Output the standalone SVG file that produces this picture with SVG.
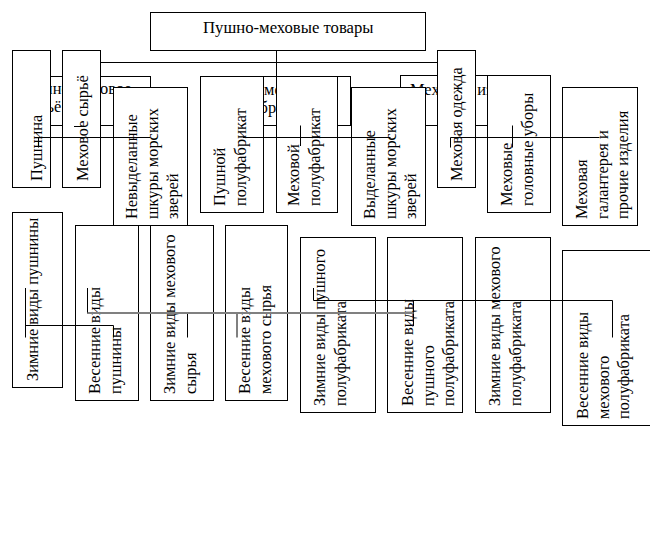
<svg xmlns="http://www.w3.org/2000/svg" width="650" height="538" viewBox="0 0 650 538">
<style>
.box{fill:#fff;stroke:#000;stroke-width:1}
.t{font-family:"Liberation Serif","Times New Roman",serif;font-size:16.4px;fill:#000}
.c{stroke:#000;stroke-width:1;fill:none}
.g{stroke:#808080;stroke-width:2;fill:none}
</style>
<rect width="650" height="538" fill="#fff"/>
<g id="hidden-nodes">
<g id="n-syrye"><rect class="box" x="14.5" y="76.5" width="136" height="49"/><text class="t" x="20" y="94">Пушно-меховое<tspan x="20" dy="18">сырьё</tspan></text></g>
<g id="n-polufabrikaty"><rect class="box" x="203.5" y="76.5" width="147" height="49"/><text class="t" x="209" y="95">Пушно-меховые<tspan x="209" dy="18">полуфабрикаты</tspan></text></g>
<g id="n-izdeliya"><rect class="box" x="400.5" y="75.5" width="145" height="50"/><text class="t" x="410" y="95">Меховые изделия</text></g>
</g>
<g id="n-root"><rect class="box" x="150.5" y="12.5" width="275" height="38"/><text class="t" x="203" y="33" style="font-size:16.7px">Пушно-меховые товары</text></g>
<g id="n-pushnina"><rect class="box" x="12.5" y="50.5" width="38" height="137"/><text class="t" transform="translate(42,181) rotate(-90)">Пушнина</text></g>
<g id="n-mehsyrye"><rect class="box" x="62.5" y="50.5" width="38" height="137"/><text class="t" transform="translate(88,181) rotate(-90)">Меховое сырьё</text></g>
<g id="n-nevyd"><rect class="box" x="113.5" y="87.5" width="74" height="138"/><text class="t" transform="translate(137,219) rotate(-90)">Невыделанные<tspan x="0" dy="20.5">шкуры морских</tspan><tspan x="0" dy="20.5">зверей</tspan></text></g>
<g id="n-pushpf"><rect class="box" x="200.5" y="76.5" width="63" height="136"/><text class="t" transform="translate(225,206) rotate(-90)">Пушной<tspan x="0" dy="20.5">полуфабрикат</tspan></text></g>
<g id="n-mehpf"><rect class="box" x="276.5" y="76.5" width="61" height="136"/><text class="t" transform="translate(299,206) rotate(-90)">Меховой<tspan x="0" dy="20.5">полуфабрикат</tspan></text></g>
<g id="n-vyd"><rect class="box" x="351.5" y="87.5" width="74" height="138"/><text class="t" transform="translate(375,219) rotate(-90)">Выделанные<tspan x="0" dy="20.5">шкуры морских</tspan><tspan x="0" dy="20.5">зверей</tspan></text></g>
<g id="n-odezhda"><rect class="box" x="437.5" y="50.5" width="38" height="137"/><text class="t" transform="translate(462,181) rotate(-90)">Меховая одежда</text></g>
<g id="n-ubory"><rect class="box" x="487.5" y="75.5" width="63" height="137"/><text class="t" transform="translate(512,206) rotate(-90)">Меховые<tspan x="0" dy="20.5">головные уборы</tspan></text></g>
<g id="n-galant"><rect class="box" x="562.5" y="87.5" width="75" height="138"/><text class="t" transform="translate(587,219) rotate(-90)">Меховая<tspan x="0" dy="20.5">галантерея и</tspan><tspan x="0" dy="20.5">прочие изделия</tspan></text></g>
<g id="n-zp"><rect class="box" x="12.5" y="212.5" width="50" height="175"/><text class="t" transform="translate(38,381) rotate(-90)">Зимние виды пушнины</text></g>
<g id="n-vp"><rect class="box" x="75.5" y="225.5" width="63" height="175"/><text class="t" transform="translate(100,394) rotate(-90)">Весенние виды<tspan x="0" dy="20.5">пушнины</tspan></text></g>
<g id="n-zms"><rect class="box" x="150.5" y="225.5" width="63" height="175"/><text class="t" transform="translate(175,394) rotate(-90)">Зимние виды мехового<tspan x="0" dy="20.5">сырья</tspan></text></g>
<g id="n-vms"><rect class="box" x="225.5" y="225.5" width="62" height="175"/><text class="t" transform="translate(250,394) rotate(-90)">Весенние виды<tspan x="0" dy="20.5">мехового сырья</tspan></text></g>
<g id="n-zpp"><rect class="box" x="300.5" y="237.5" width="75" height="175"/><text class="t" transform="translate(325,406) rotate(-90)">Зимние виды пушного<tspan x="0" dy="20.5">полуфабриката</tspan></text></g>
<g id="n-vpp"><rect class="box" x="387.5" y="237.5" width="75" height="175"/><text class="t" transform="translate(413,406) rotate(-90)">Весенние виды<tspan x="0" dy="20.5">пушного</tspan><tspan x="0" dy="20.5">полуфабриката</tspan></text></g>
<g id="n-zmp"><rect class="box" x="475.5" y="237.5" width="75" height="175"/><text class="t" transform="translate(500,406) rotate(-90)">Зимние виды мехового<tspan x="0" dy="20.5">полуфабриката</tspan></text></g>
<g id="n-vmp"><rect class="box" x="562.5" y="250.5" width="90" height="175"/><text class="t" transform="translate(588,419) rotate(-90)">Весенние виды<tspan x="0" dy="20.5">мехового</tspan><tspan x="0" dy="20.5">полуфабриката</tspan></text></g>
<g id="connectors">
<path class="c" d="M276.5,50.5V76.5 M100.5,62.5H437.5"/>
<path class="c" d="M38.5,137.5H150.5 M243,137.5H390.5 M450.5,137.5H599.5"/>
<path class="c" d="M38.5,137.5V147.5 M74,126.5H83 M300.5,125.5V146 M450.5,137.5V147.5 M512.5,125.5V147.5"/>
<path class="c" d="M25.5,288V337.5 M25.5,325.5H113.5V337.5 M87.5,288V313.5 M187.5,313.5V337.5 M413.5,300.5V326 M313.5,288V300.5H612.5V337.5"/>
<path class="g" d="M87.5,313H413.5 M237,313V337.5"/>
</g>
</svg>
